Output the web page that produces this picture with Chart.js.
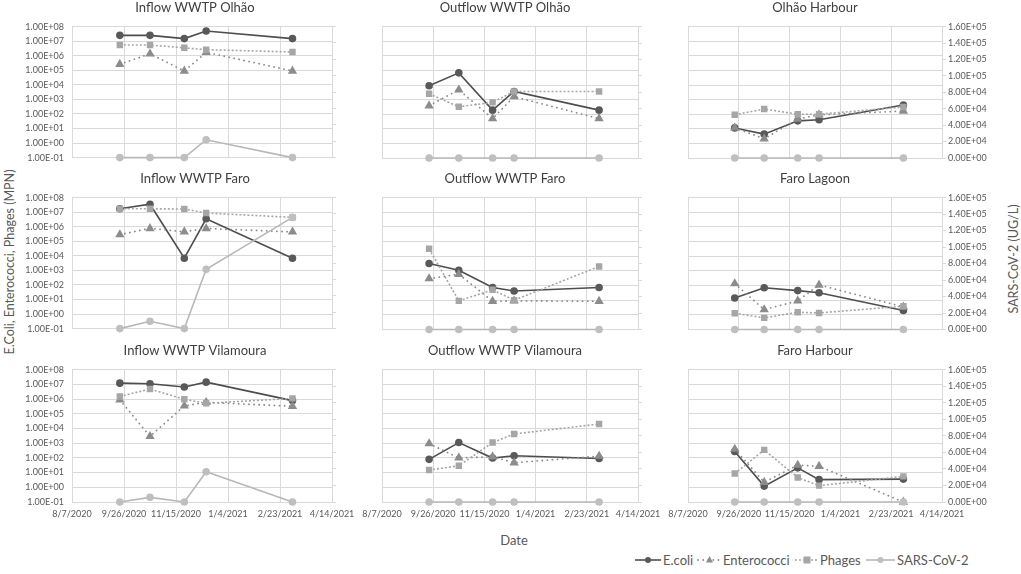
<!DOCTYPE html>
<html>
<head>
<meta charset="utf-8">
<script src="https://cdn.jsdelivr.net/npm/chart.js@4.4.1/dist/chart.umd.min.js"></script>
<style>
  body { margin: 0; width: 1021px; height: 574px; background: #fff; position: relative; overflow: hidden;
         font-family: Lato, "Open Sans", sans-serif; color: #595959; }
  .panel { position: absolute; }
  .vtitle { position: absolute; white-space: nowrap; font-size: 12.5px; transform: translate(-50%, -50%) rotate(-90deg); }
  .xtitle { position: absolute; font-size: 13px; transform: translate(-50%, -50%); }
  .leg { position: absolute; top: 552px; font-size: 13px; height: 16px; line-height: 16px; }
  .leg svg { position: absolute; top: 0; }
</style>
</head>
<body>

<div class="vtitle" style="left:9px; top:262px;">E.Coli, Enterococci, Phages (MPN)</div>
<div class="vtitle" style="left:1013px; top:259px;">SARS-CoV-2 (UG/L)</div>
<div class="xtitle" style="left:514px; top:540px;">Date</div>

<div class="leg" style="left:635px;">
  <svg width="26" height="16"><line x1="0" y1="8" x2="26" y2="8" stroke="#4d4d4d" stroke-width="1.6"/><circle cx="13" cy="8" r="3" fill="#595959"/></svg>
  <span style="margin-left:28px;">E.coli</span>
</div>
<div class="leg" style="left:697px;">
  <svg width="25" height="16"><line x1="1" y1="8" x2="25" y2="8" stroke="#8a8a8a" stroke-width="1.8" stroke-dasharray="0.1 5" stroke-linecap="round"/><polygon points="12.5,4 16,10.5 9,10.5" fill="#8c8c8c"/></svg>
  <span style="margin-left:26px;">Enterococci</span>
</div>
<div class="leg" style="left:795px;">
  <svg width="24" height="16"><line x1="0" y1="8" x2="24" y2="8" stroke="#a6a6a6" stroke-width="1.6" stroke-dasharray="2 2"/><rect x="8.5" y="4.5" width="7" height="7" fill="#a6a6a6"/></svg>
  <span style="margin-left:25px;">Phages</span>
</div>
<div class="leg" style="left:866px;">
  <svg width="29" height="16"><line x1="0" y1="8" x2="29" y2="8" stroke="#b8b8b8" stroke-width="1.6"/><circle cx="14.5" cy="8" r="3" fill="#bfbfbf"/></svg>
  <span style="margin-left:31px;">SARS-CoV-2</span>
</div>

<script>
// sampling dates (same for every site)
var dates = ['2020-09-22', '2020-10-21', '2020-11-23', '2020-12-14', '2021-03-07'];

var titles = ['Inflow WWTP Olhão', 'Outflow WWTP Olhão', 'Olhão Harbour',
              'Inflow WWTP Faro', 'Outflow WWTP Faro', 'Faro Lagoon',
              'Inflow WWTP Vilamoura', 'Outflow WWTP Vilamoura', 'Faro Harbour'];

// MPN, one row per panel (same order as titles)
var ecoli = [
  [2.5e7, 2.5e7, 1.5e7, 5e7, 1.5e7],
  [8.9e3, 6.8e4, 190, 3.6e3, 190],
  [11.5, 4.3, 35, 42, 430],
  [1.7e7, 3.5e7, 6.8e3, 3.5e6, 6.8e3],
  [3.2e3, 1.1e3, 74, 42, 74],
  [14, 71, 45, 32, 2],
  [1.2e7, 1.1e7, 6.6e6, 1.4e7, 7.8e5],
  [79, 1.1e3, 97, 140, 91],
  [270, 1.2, 21, 3.3, 3.6]
];
var enterococci = [
  [2.6e5, 1.35e6, 9e4, 1.7e6, 9e4],
  [380, 4.7e3, 50, 1.6e3, 50],
  [11.5, 2.1, 46, 92, 165],
  [2.9e5, 7.6e5, 4.5e5, 7.6e5, 4.4e5],
  [295, 590, 8.5, 9, 8.5],
  [135, 2.3, 9, 110, 3.5],
  [8.7e5, 2.9e3, 3.4e5, 6e5, 3.2e5],
  [930, 100, 120, 47, 132],
  [390, 2.2, 32, 27, 0.1]
];
var phages = [
  [5.4e6, 5.4e6, 3.5e6, 2.6e6, 1.8e6],
  [2.5e3, 320, 650, 3.6e3, 3.6e3],
  [92, 225, 100, 100, 310],
  [1.7e7, 1.7e7, 1.65e7, 8.7e6, 4.4e6],
  [3.2e4, 9, 51, 10, 2e3],
  [1.3, 0.62, 1.5, 1.35, 3.9],
  [1.5e6, 4.8e6, 9.6e5, 5.1e5, 1.1e6],
  [15, 29, 1.1e3, 4.2e3, 2e4],
  [8.6, 350, 4.6, 1.3, 5.5]
];
// UG/L, secondary axis
var sars = [
  [0, 0, 0, 21800, 0],
  [0, 0, 0, 0, 0],
  [0, 0, 0, 0, 0],
  [0, 9000, 0, 72400, 135800],
  [0, 0, 0, 0, 0],
  [0, 0, 0, 0, 0],
  [0, 5600, 0, 36600, 0],
  [0, 0, 0, 0, 0],
  [0, 0, 0, 0, 0]
];

var logTicks = [0.1, 1, 10, 100, 1e3, 1e4, 1e5, 1e6, 1e7, 1e8];
var xTicks = [0, 50, 100, 150, 200, 250];   // days after 8/7/2020

var base = Date.UTC(2020, 7, 7);
function dayOf(s) {
  var p = s.split('-').map(Number);
  return Math.round((Date.UTC(p[0], p[1] - 1, p[2]) - base) / 864e5);
}
function dateLabel(n) {
  var t = new Date(base + n * 864e5);
  return (t.getUTCMonth() + 1) + '/' + t.getUTCDate() + '/' + t.getUTCFullYear();
}
function sci(v) {
  return v.toExponential(2).toUpperCase().replace(/E([+-])(\d)$/, 'E$10$2');
}

var days = dates.map(dayOf);
function pts(arr) { return arr.map(function (v, i) { return { x: days[i], y: v }; }); }

var cols = [
  { left: 14,  width: 362, lw: 58, rw: 44 },
  { left: 340, width: 330, lw: 42, rw: 32 },
  { left: 630, width: 370, lw: 58, rw: 58 }
];
var rows = [
  { top: 0,   height: 168, xh: 10 },
  { top: 171, height: 168, xh: 9.5 },
  { top: 343, height: 185, xh: 26 }
];

var gridColor = '#d9d9d9';
var tickFont = { family: 'Lato', size: 9 };

titles.forEach(function (title, k) {
  var ci = k % 3, ri = Math.floor(k / 3);
  var c = cols[ci], r = rows[ri];
  var h = r.height + ((ci === 0 && ri < 2) ? 3 : 0);
  var div = document.createElement('div');
  div.className = 'panel';
  div.style.left = c.left + 'px';
  div.style.top = r.top + 'px';
  div.style.width = c.width + 'px';
  div.style.height = h + 'px';
  var cv = document.createElement('canvas');
  div.appendChild(cv);
  document.body.appendChild(div);

  var showLeft = (ci === 0), showRight = (ci === 2), showX = (ri === 2);

  new Chart(cv, {
    type: 'line',
    data: {
      datasets: [
        { label: 'E.coli', data: pts(ecoli[k]), yAxisID: 'y', order: 3,
          borderColor: '#4d4d4d', backgroundColor: '#595959', borderWidth: 1.6,
          pointStyle: 'circle', pointRadius: 3, pointBorderColor: '#595959', pointBackgroundColor: '#595959' },
        { label: 'Enterococci', data: pts(enterococci[k]), yAxisID: 'y', order: 2,
          borderColor: '#8a8a8a', borderWidth: 1.8, borderDash: [0.1, 5], borderCapStyle: 'round',
          pointStyle: 'triangle', pointRadius: 3.6, pointBorderColor: '#8c8c8c', pointBackgroundColor: '#8c8c8c' },
        { label: 'Phages', data: pts(phages[k]), yAxisID: 'y', order: 1,
          borderColor: '#a6a6a6', borderWidth: 1.6, borderDash: [2, 2],
          pointStyle: 'rect', pointRadius: 3.4, pointBorderColor: '#a6a6a6', pointBackgroundColor: '#a6a6a6' },
        { label: 'SARS-CoV-2', data: pts(sars[k]), yAxisID: 'y2', order: 0,
          borderColor: '#b8b8b8', borderWidth: 1.6,
          pointStyle: 'circle', pointRadius: 3, pointBorderColor: '#bfbfbf', pointBackgroundColor: '#bfbfbf' }
      ]
    },
    options: {
      responsive: true,
      maintainAspectRatio: false,
      animation: false,
      layout: { padding: 0 },
      datasets: { line: { clip: false, tension: 0 } },
      plugins: {
        legend: { display: false },
        tooltip: { enabled: false },
        title: { display: true, text: title, color: '#404040',
                 font: { family: 'Lato', size: 13, weight: 'normal' }, padding: { top: 0, bottom: 11 } }
      },
      scales: {
        x: {
          type: 'linear', min: 0, max: 250,
          afterBuildTicks: function (s) { s.ticks = xTicks.map(function (v) { return { value: v }; }); },
          afterFit: function (s) { s.height = r.xh; },
          grid: { color: gridColor, drawTicks: false },
          border: { color: gridColor },
          ticks: { display: showX, autoSkip: false, maxRotation: 0, padding: 7, color: '#595959', font: tickFont,
                   callback: function (v) { return dateLabel(v); } }
        },
        y: {
          type: 'logarithmic', position: 'left', min: 0.1, max: 1e8,
          afterBuildTicks: function (s) { s.ticks = logTicks.map(function (v) { return { value: v }; }); },
          afterFit: function (s) { s.width = c.lw; },
          grid: { color: gridColor, drawTicks: false },
          border: { color: gridColor },
          ticks: { display: showLeft, padding: 8, color: '#595959', font: tickFont,
                   callback: function (v) { return sci(v); } }
        },
        y2: {
          type: 'linear', position: 'right', min: 0, max: 160000,
          afterFit: function (s) { s.width = c.rw; },
          grid: { drawOnChartArea: false, color: gridColor, drawTicks: true, tickLength: 4 },
          border: { color: gridColor },
          ticks: { display: showRight, stepSize: 20000, padding: 2, color: '#595959', font: tickFont,
                   callback: function (v) { return sci(v); } }
        }
      }
    }
  });
});
</script>
</body>
</html>
